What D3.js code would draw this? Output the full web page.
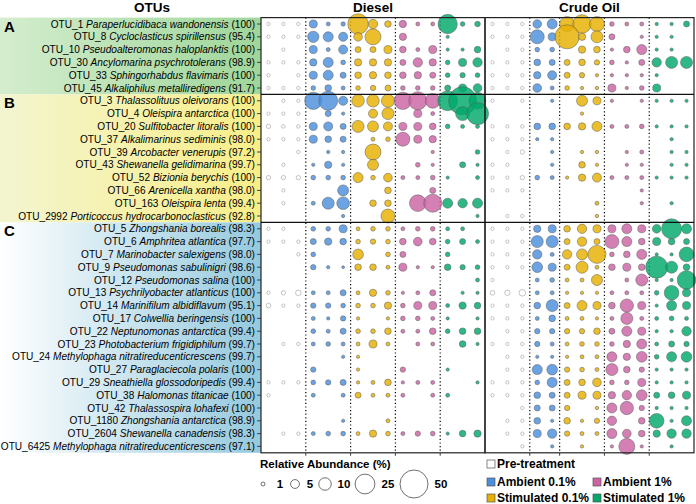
<!DOCTYPE html>
<html>
<head>
<meta charset="utf-8">
<script src="https://cdn.jsdelivr.net/npm/d3@7"></script>
<style>
body { margin: 0; background: #fff; }
text { font-family: "Liberation Sans", Arial, sans-serif; fill: #000; }
</style>
</head>
<body>
<script>
var width = 696,
    height = 504;

var otuIds = ['OTU_1', 'OTU_8', 'OTU_10', 'OTU_30', 'OTU_33', 'OTU_45',
    'OTU_3', 'OTU_4', 'OTU_20', 'OTU_37', 'OTU_39', 'OTU_43', 'OTU_52', 'OTU_66', 'OTU_163', 'OTU_2992',
    'OTU_5', 'OTU_6', 'OTU_7', 'OTU_9', 'OTU_12', 'OTU_13', 'OTU_14', 'OTU_17', 'OTU_22', 'OTU_23',
    'OTU_24', 'OTU_27', 'OTU_29', 'OTU_38', 'OTU_42', 'OTU_1180', 'OTU_2604', 'OTU_6425'];

var species = ['Paraperlucidibaca wandonensis', 'Cycloclasticus spirillensus', 'Pseudoalteromonas haloplanktis',
    'Ancylomarina psychrotolerans', 'Sphingorhabdus flavimaris', 'Alkaliphilus metalliredigens',
    'Thalassolituus oleivorans', 'Oleispira antarctica', 'Sulfitobacter litoralis', 'Alkalimarinus sediminis',
    'Arcobacter venerupis', 'Shewanella gelidimarina', 'Bizionia berychis', 'Arenicella xantha',
    'Oleispira lenta', 'Porticoccus hydrocarbonoclasticus',
    'Zhongshania borealis', 'Amphritea atlantica', 'Marinobacter salexigens', 'Pseudomonas sabulinigri',
    'Pseudomonas salina', 'Psychrilyobacter atlanticus', 'Marinifilum albidiflavum', 'Colwellia beringensis',
    'Neptunomonas antarctica', 'Photobacterium frigidiphilum', 'Methylophaga nitratireducenticrescens',
    'Paraglaciecola polaris', 'Sneathiella glossodoripedis', 'Halomonas titanicae', 'Thalassospira lohafexi',
    'Zhongshania antarctica', 'Shewanella canadensis', 'Methylophaga nitratireducenticrescens'];

var identity = ['100', '95.4', '100', '98.9', '100', '91.7',
    '100', '100', '100', '98.0', '97.2', '99.7', '100', '98.0', '99.4', '92.8',
    '98.3', '97.7', '98.0', '98.6', '100', '100', '95.1', '100', '99.4', '99.7',
    '99.7', '100', '99.4', '100', '100', '98.9', '98.3', '97.1'];

var groupOf = ['A', 'A', 'A', 'A', 'A', 'A',
    'B', 'B', 'B', 'B', 'B', 'B', 'B', 'B', 'B', 'B',
    'C', 'C', 'C', 'C', 'C', 'C', 'C', 'C', 'C', 'C', 'C', 'C', 'C', 'C', 'C', 'C', 'C', 'C'];

var dieselTreat = ['pre', 'pre', 'pre', 'amb01', 'amb01', 'amb01', 'stim01', 'stim01', 'stim01',
    'amb1', 'amb1', 'amb1', 'stim1', 'stim1', 'stim1'];
var crudeTreat = ['pre', 'pre', 'pre', 'amb01', 'amb01', 'stim01', 'stim01', 'stim01',
    'amb1', 'amb1', 'amb1', 'stim1', 'stim1', 'stim1'];

// relative abundance (%), one row per OTU, one value per sample column
var dieselVals = [
    [0.7, 0.7, 0.7, 4.1, 1.0, 1.2, 27, 5.6, 2.8, 3.4, 1.0, 1.0, 23.8, 1.4, 2.0],
    [0.7, 0.7, 0.7, 8.2, 6.4, 5.2, 4.8, 16.3, 0, 3.4, 0, 0, 0.7, 0, 0],
    [0, 0.7, 0, 4.1, 1.0, 5.2, 2.3, 2.3, 4.1, 2.8, 1.0, 4.1, 0.7, 0.7, 2.8],
    [0.7, 0.7, 0.7, 3.4, 6.4, 1.4, 3.4, 3.4, 3.4, 2.3, 5.6, 3.4, 1.4, 4.1, 5.6],
    [0.7, 0, 0.7, 4.1, 6.4, 2.3, 2.8, 3.4, 2.8, 2.8, 3.4, 2.3, 1.4, 1.8, 1.4],
    [0.7, 0.7, 0.7, 1.4, 2.8, 1.0, 1.4, 1.8, 2.3, 1.4, 1.4, 1.4, 2.3, 4.1, 4.8],
    [0, 0.7, 0.7, 19, 23, 5.2, 10, 10, 10.8, 19, 21, 14, 25, 50, 17.7],
    [0.7, 0.7, 0.7, 0, 2.3, 0.7, 0, 5.2, 9.2, 0, 4.1, 1.0, 0, 12.5, 31],
    [1.2, 0.8, 0.8, 4.1, 5.2, 2.3, 9.2, 7.7, 5.2, 4.1, 4.1, 2.8, 1.4, 1.0, 1.0],
    [0.7, 0.7, 0.7, 4.1, 2.8, 2.3, 0, 1.0, 1.4, 12.5, 4.1, 3.4, 0, 0, 0],
    [0, 0, 0.7, 0, 0.7, 0.7, 0, 16.3, 0, 0, 0, 0.7, 0, 0, 1.4],
    [0, 0.7, 0, 0.7, 3.4, 0.7, 0, 7.7, 0, 0, 1.4, 0.7, 0, 2.3, 0.7],
    [1.2, 1.2, 1.2, 1.4, 1.4, 1.4, 6.4, 1.4, 4.8, 1.0, 1.0, 1.4, 0.7, 0, 1.0],
    [0, 0.7, 0, 0, 0, 7.7, 0, 0, 2.8, 0, 0, 2.3, 0, 0, 0],
    [0, 0.7, 0, 1.0, 9.2, 10.2, 0, 2.8, 2.8, 0, 17.7, 20.7, 6.4, 5.6, 6.4],
    [0, 0, 0, 0, 0, 0.7, 0, 0, 12.5, 0, 0, 0, 0, 0, 0.7],
    [0.7, 0.7, 0, 1.4, 1.4, 4.1, 1.0, 1.4, 1.4, 1.0, 1.4, 1.4, 1.0, 1.0, 0],
    [0.7, 0.7, 0.7, 2.3, 3.4, 2.8, 1.4, 1.8, 1.4, 2.8, 4.8, 2.8, 1.4, 2.3, 1.0],
    [0, 0, 0.7, 1.4, 0, 0, 7.3, 0, 1.4, 2.3, 0, 0, 1.4, 0, 0],
    [0, 0, 0, 1.8, 0.7, 0.5, 2.8, 2.8, 1.0, 4.1, 0.7, 0.7, 2.8, 1.8, 1.4],
    [0, 0, 0, 0, 0, 0, 0, 0, 0, 0, 0, 0, 0, 0, 1.0],
    [0.7, 1.2, 2.0, 1.0, 1.0, 2.3, 1.0, 3.4, 1.4, 0.7, 1.0, 2.3, 0, 0.7, 0.7],
    [1.4, 0.7, 0.7, 1.8, 1.8, 1.4, 1.4, 1.4, 3.4, 1.4, 4.1, 4.1, 1.0, 3.4, 2.8],
    [0, 0, 0, 1.0, 0.7, 1.8, 0.7, 0, 0.7, 1.4, 1.4, 1.0, 0.7, 0, 0.7],
    [0, 0, 0, 1.4, 1.0, 2.3, 1.4, 1.4, 2.8, 1.0, 1.0, 2.8, 1.4, 2.8, 2.8],
    [0, 0.7, 0.7, 1.0, 1.4, 1.0, 1.0, 4.1, 1.0, 0, 1.0, 1.0, 0, 2.8, 0.7],
    [0, 0, 0, 0, 0, 0.7, 0.7, 0, 0, 0, 0, 0, 0, 0, 0],
    [0, 0, 0, 1.8, 0, 0, 0.7, 0, 0, 1.8, 0, 0, 0.7, 0, 0],
    [0.7, 0.7, 0.7, 1.4, 1.8, 2.3, 0.7, 1.0, 2.8, 0.7, 1.0, 1.0, 0, 0, 0.7],
    [0.7, 0, 0, 1.0, 0, 1.0, 2.3, 1.0, 1.0, 1.0, 0, 1.0, 1.0, 0, 0],
    [0, 0, 0, 0, 0, 0, 0, 0, 0, 0, 0, 0, 0, 0, 0],
    [0, 0, 0, 0, 0, 0.7, 0, 0, 1.0, 0, 0, 0, 0, 0, 0],
    [0, 0.7, 0.7, 1.0, 1.4, 1.4, 1.0, 3.4, 1.4, 1.0, 1.8, 1.4, 0.7, 2.8, 3.4],
    [0, 0, 0, 0, 0, 0, 0, 0, 0, 0, 0, 0, 0, 0, 0]
];

var crudeVals = [
    [0.7, 0.7, 0.7, 4.8, 6.4, 14.3, 22, 14.3, 1.4, 1.0, 1.0, 0.7, 0.7, 2.3],
    [0.7, 0.7, 0.7, 12.5, 4.1, 37, 3.4, 9.2, 2.3, 0, 0.7, 0.7, 0.7, 0],
    [0, 0.7, 0.7, 1.4, 1.4, 0, 3.4, 2.8, 0.7, 2.8, 6.4, 0.7, 0.7, 0],
    [0.7, 0.7, 0.7, 2.8, 2.3, 2.3, 2.8, 1.8, 1.4, 0.7, 2.3, 5.6, 9.2, 9.2],
    [0.7, 0.7, 0.7, 3.4, 5.2, 2.3, 1.8, 0.7, 0.7, 0.7, 0.7, 0.7, 0, 0],
    [0.7, 0.7, 0.7, 4.8, 1.0, 1.4, 0.7, 0.7, 4.1, 0.7, 1.4, 4.1, 0, 0],
    [0.7, 0, 0.7, 0, 0.7, 0, 7.7, 4.1, 0.7, 0, 0.7, 0.7, 0.7, 0.7],
    [0, 0, 0, 0, 0, 0, 0.7, 0, 0, 0, 0, 0, 0, 0],
    [0.7, 0.7, 0.8, 2.8, 2.8, 2.8, 3.4, 6.4, 1.0, 1.0, 1.4, 0.7, 0.7, 0.7],
    [0.7, 0.7, 0.7, 0.7, 0.7, 0, 0, 0, 0, 0, 0, 0, 0.7, 0],
    [0, 0.7, 1.2, 0, 0.7, 0, 0.7, 0.7, 0, 0.7, 1.0, 0, 0.7, 0.7],
    [0.7, 0.7, 0, 0, 0.7, 0, 2.8, 0.7, 0, 0.7, 0.7, 0, 0.7, 0.7],
    [0.7, 0.7, 1.2, 1.4, 1.0, 0.7, 3.4, 5.2, 1.0, 1.0, 1.0, 0.7, 0.7, 0.7],
    [0.7, 0.7, 0.7, 0, 0, 0, 0, 0, 0, 0, 0.7, 0, 0, 0],
    [0, 0, 0, 0, 0, 0, 0, 1.0, 0, 0, 0.7, 0, 0.7, 0],
    [0, 0.7, 0.7, 0, 0, 0, 0, 0.7, 0, 0, 0, 0, 0, 0],
    [0.7, 0.7, 0.7, 3.4, 4.1, 2.8, 5.6, 4.1, 4.1, 6.4, 4.1, 4.8, 25.5, 6.4],
    [0.7, 0.7, 0.7, 9.2, 9.2, 2.3, 5.6, 2.3, 12.5, 6.4, 2.8, 4.1, 2.8, 2.3],
    [0.7, 0.7, 0.7, 5.6, 1.0, 5.6, 7.7, 20.7, 1.4, 2.8, 6.4, 0.7, 0.7, 13.7],
    [0.7, 0.7, 0.7, 7.3, 4.1, 2.3, 9.2, 1.0, 2.8, 4.1, 2.8, 31, 9.2, 2.8],
    [0.7, 0, 0, 1.0, 1.4, 1.0, 1.0, 7.7, 0, 1.0, 9.2, 0.7, 0.7, 22],
    [1.4, 1.8, 2.8, 1.0, 1.0, 0.7, 0.7, 0.7, 1.0, 1.0, 1.0, 1.4, 13.7, 4.1],
    [0.7, 0.7, 0.7, 2.8, 9.2, 2.3, 6.4, 4.1, 2.8, 11.3, 4.1, 0.7, 6.4, 4.1],
    [0.7, 0.7, 0.7, 1.0, 2.8, 1.0, 1.0, 0.7, 1.0, 9.2, 1.0, 1.0, 1.4, 1.0],
    [0, 0.7, 0.7, 1.8, 1.8, 1.8, 1.8, 2.8, 2.3, 6.4, 4.1, 0.7, 0.7, 5.6],
    [0.7, 0.7, 0.7, 1.8, 1.0, 1.0, 1.4, 1.4, 1.4, 3.4, 6.4, 1.0, 2.3, 1.8],
    [0, 0.7, 0.7, 0.7, 0.7, 0.7, 1.0, 1.0, 6.4, 3.4, 7.3, 1.4, 6.4, 7.3],
    [0, 0.7, 0.7, 6.4, 7.3, 1.8, 1.4, 1.0, 9.2, 2.8, 1.8, 0.7, 0.7, 0.7],
    [0.7, 0.7, 0.7, 1.4, 6.4, 2.3, 2.8, 4.8, 1.4, 1.4, 4.1, 0.7, 0.7, 0.7],
    [0.7, 0.7, 0.7, 2.8, 2.3, 2.3, 4.1, 4.1, 3.4, 5.6, 7.3, 2.3, 2.8, 4.1],
    [0, 0, 0.7, 2.3, 2.3, 1.8, 0, 0.7, 6.4, 11.3, 1.8, 0.7, 0.7, 0.7],
    [0, 0.7, 0.7, 2.8, 0.7, 2.8, 0.7, 1.8, 5.6, 0, 2.8, 13.7, 0.7, 6.4],
    [0, 0.7, 0.7, 4.1, 5.6, 1.8, 1.0, 1.0, 6.4, 4.8, 2.8, 3.4, 5.6, 5.6],
    [0, 0, 0.7, 0, 0.7, 0, 0.7, 0, 0.7, 16.3, 0.7, 0, 0.7, 0]
];

var sizeTicks = [1, 5, 10, 25, 50];
var legendNames = ['Pre-treatment', 'Ambient 0.1%', 'Stimulated 0.1%', 'Ambient 1%', 'Stimulated 1%'];
var legendKeys = ['pre', 'amb01', 'stim01', 'amb1', 'stim1'];

var fills = {
    'pre': '#ffffff',
    'amb01': '#4a8fdd',
    'stim01': '#e6b000',
    'amb1': '#cc64a4',
    'stim1': '#00a86b'
};

var bandColors = {
    'A': ['#d4edce', '#9fd69a'],
    'B': ['#f3f5d0', '#f8ee88'],
    'C': ['#ffffff', '#94c9de']
};

var plotTop = 17.6, plotBottom = 452.8, plotLeft = 261, plotMid = 485, plotRight = 694;

var svg = d3.select('body')
    .append('svg')
    .attr('width', width)
    .attr('height', height);

var y = d3.scaleBand()
    .domain(d3.range(otuIds.length))
    .range([plotTop, plotBottom]);

var xDiesel = d3.scaleBand()
    .domain(d3.range(dieselTreat.length))
    .range([plotLeft, plotMid]);

var xCrude = d3.scaleBand()
    .domain(d3.range(crudeTreat.length))
    .range([plotMid, plotRight]);

var r = d3.scaleSqrt()
    .domain([0, 50])
    .range([0, 14]);

// group background bands
var defs = svg.append('defs');
var groups = ['A', 'B', 'C'];
groups.forEach(function (g) {
    var grad = defs.append('linearGradient')
        .attr('id', 'grad' + g)
        .attr('x1', '0%').attr('x2', '100%');
    grad.append('stop').attr('offset', '0%').attr('stop-color', bandColors[g][0]);
    grad.append('stop').attr('offset', '100%').attr('stop-color', bandColors[g][1]);
});

function groupRange(g) {
    var idx = d3.range(otuIds.length).filter(function (i) { return groupOf[i] === g; });
    return [y(idx[0]), y(idx[idx.length - 1]) + y.bandwidth()];
}

groups.forEach(function (g) {
    var ext = groupRange(g);
    svg.append('rect')
        .attr('x', 0)
        .attr('y', ext[0])
        .attr('width', plotLeft)
        .attr('height', ext[1] - ext[0])
        .attr('fill', 'url(#grad' + g + ')');
    svg.append('text')
        .attr('x', 4)
        .attr('y', ext[0] + 14)
        .attr('font-size', 15)
        .attr('font-weight', 'bold')
        .text(g);
});

// y axis ticks and labels
svg.append('g')
    .attr('transform', 'translate(' + plotLeft + ',0)')
    .call(d3.axisLeft(y).tickSize(4).tickFormat(''))
    .call(function (g) {
        g.select('.domain').remove();
        g.selectAll('line').attr('stroke', '#444');
    });

var labels = svg.append('g')
    .selectAll('text')
    .data(otuIds)
    .enter()
    .append('text')
    .attr('x', plotLeft - 6)
    .attr('y', function (d, i) { return y(i) + y.bandwidth() / 2; })
    .attr('dy', '0.35em')
    .attr('text-anchor', 'end')
    .attr('font-size', 10.1);

labels.append('tspan').text(function (d) { return d + ' '; });
labels.append('tspan').attr('font-style', 'italic').text(function (d, i) { return species[i]; });
labels.append('tspan').text(function (d, i) { return ' (' + identity[i] + ')'; });

// panels
function drawPanel(x, treat, vals, title) {
    var g = svg.append('g');
    var x0 = x.range()[0], x1 = x.range()[1];

    // dotted lines between treatment groups
    var cuts = [];
    for (var i = 1; i < treat.length; i++) {
        if (treat[i] !== treat[i - 1]) cuts.push(x(i));
    }
    g.selectAll('line.cut')
        .data(cuts)
        .enter()
        .append('line')
        .attr('class', 'cut')
        .attr('x1', function (d) { return d; })
        .attr('x2', function (d) { return d; })
        .attr('y1', plotTop)
        .attr('y2', plotBottom)
        .attr('stroke', '#000')
        .attr('stroke-width', 1.2)
        .attr('stroke-dasharray', '1.2,2.4');

    g.selectAll('line.tick')
        .data(cuts)
        .enter()
        .append('line')
        .attr('class', 'tick')
        .attr('x1', function (d) { return d; })
        .attr('x2', function (d) { return d; })
        .attr('y1', plotBottom)
        .attr('y2', plotBottom + 3)
        .attr('stroke', '#444');

    var cells = [];
    vals.forEach(function (row, ri) {
        row.forEach(function (v, ci) {
            if (v > 0) cells.push({row: ri, col: ci, value: v, treat: treat[ci]});
        });
    });

    g.selectAll('circle')
        .data(cells)
        .enter()
        .append('circle')
        .attr('cx', function (d) { return x(d.col) + x.bandwidth() / 2; })
        .attr('cy', function (d) { return y(d.row) + y.bandwidth() / 2; })
        .attr('r', function (d) { return r(d.value); })
        .attr('fill', function (d) { return fills[d.treat]; })
        .attr('fill-opacity', function (d) { return d.treat === 'pre' ? 1 : 0.82; })
        .attr('stroke', function (d) { return d.treat === 'pre' ? '#8a8a8a' : '#5a5a5a'; })
        .attr('stroke-width', 0.5);

    g.append('rect')
        .attr('x', x0)
        .attr('y', plotTop)
        .attr('width', x1 - x0)
        .attr('height', plotBottom - plotTop)
        .attr('fill', 'none')
        .attr('stroke', '#222')
        .attr('stroke-width', 1.2);

    svg.append('text')
        .attr('x', (x0 + x1) / 2)
        .attr('y', 12)
        .attr('text-anchor', 'middle')
        .attr('font-size', 13.5)
        .attr('font-weight', 'bold')
        .text(title);
}

drawPanel(xDiesel, dieselTreat, dieselVals, 'Diesel');
drawPanel(xCrude, crudeTreat, crudeVals, 'Crude Oil');

// group separators across panels
['B', 'C'].forEach(function (g) {
    var yy = groupRange(g)[0];
    svg.append('line')
        .attr('x1', plotLeft)
        .attr('x2', plotRight)
        .attr('y1', yy)
        .attr('y2', yy)
        .attr('stroke', '#111')
        .attr('stroke-width', 1.3);
});

svg.append('text')
    .attr('x', 152)
    .attr('y', 12)
    .attr('text-anchor', 'middle')
    .attr('font-size', 13.5)
    .attr('font-weight', 'bold')
    .text('OTUs');

// size legend
svg.append('text')
    .attr('x', 260)
    .attr('y', 468)
    .attr('font-size', 11.5)
    .attr('font-weight', 'bold')
    .text('Relative Abundance (%)');

var sizeX = [263, 295, 325, 365, 414];
var sizeLabelX = [280, 310, 344, 388, 441];
var sizeLeg = svg.append('g');
sizeLeg.selectAll('circle')
    .data(sizeTicks)
    .enter()
    .append('circle')
    .attr('cx', function (d, i) { return sizeX[i]; })
    .attr('cy', 484)
    .attr('r', function (d) { return r(d); })
    .attr('fill', '#fff')
    .attr('stroke', '#333')
    .attr('stroke-width', 0.7);
sizeLeg.selectAll('text')
    .data(sizeTicks)
    .enter()
    .append('text')
    .attr('x', function (d, i) { return sizeLabelX[i]; })
    .attr('y', 488)
    .attr('text-anchor', 'middle')
    .attr('font-size', 11.5)
    .attr('font-weight', 'bold')
    .text(function (d) { return d; });

// colour legend
var legPos = [[487, 464], [487, 482], [487, 498], [593, 482], [593, 498]];
var colLeg = svg.append('g')
    .selectAll('g')
    .data(legendKeys)
    .enter()
    .append('g')
    .attr('transform', function (d, i) { return 'translate(' + legPos[i][0] + ',' + legPos[i][1] + ')'; });
colLeg.append('rect')
    .attr('x', 0)
    .attr('y', -4)
    .attr('width', 8)
    .attr('height', 8)
    .attr('fill', function (d) { return fills[d]; })
    .attr('stroke', '#555')
    .attr('stroke-width', 0.7);
colLeg.append('text')
    .attr('x', 10)
    .attr('y', 0)
    .attr('dy', '0.35em')
    .attr('font-size', 12)
    .attr('font-weight', 'bold')
    .text(function (d, i) { return legendNames[i]; });
</script>
</body>
</html>
